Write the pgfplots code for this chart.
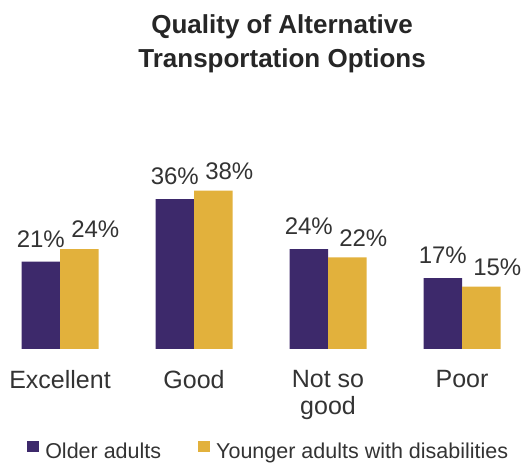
\documentclass[border=0pt]{standalone}
\usepackage{fontspec}
\setmainfont{Liberation Sans}
\usepackage{pgfplots}
\pgfplotsset{compat=1.18}
\definecolor{olderc}{HTML}{3D296B}
\definecolor{youngc}{HTML}{E2B13C}
\definecolor{txt}{HTML}{333333}
\definecolor{ttl}{HTML}{262626}
\begin{document}
\begin{tikzpicture}
\begin{axis}[
  scale only axis,
  width=523pt, height=166.6pt,
  xmin=-0.448, xmax=3.455,
  ymin=0, ymax=40,
  clip=false,
  axis line style={draw=none},
  ytick=\empty,
  xtick={0,1,2,3},
  xticklabels={Excellent,Good,{Not so\\good},Poor},
  major tick length=0pt,
  xticklabel style={anchor=north, inner sep=0pt, yshift=-21pt, align=center,
    font=\fontsize{25}{27}\selectfont, text=txt},
  /pgf/number format/assume math mode=true,
  ybar=0pt,
  bar width=38.5pt,
  nodes near coords={\pgfmathprintnumber{\pgfplotspointmeta}\%},
  every node near coord/.append style={anchor=south, inner sep=0pt,
    font=\fontsize{24}{24}\selectfont, text=txt},
  legend columns=2,
  legend style={at={(axis cs:-0.246,-22.0)}, anchor=north west, draw=none, fill=none,
    inner sep=0pt, column sep=0pt,
    nodes={inner sep=0pt, font=\fontsize{21.5}{24}\selectfont, text=txt}},
  /tikz/every odd column/.append style={column sep=6pt},
  /tikz/every even column/.append style={column sep=37pt},
  legend image code/.code={\fill[#1] (0pt,0pt) rectangle (12pt,11pt);},
]
\addplot[fill=olderc, draw=none,
  every node near coord/.append style={yshift=14pt}]
  coordinates {(0,21) (1,36) (2,24) (3,17)};
\addlegendentry{Older adults}
\addplot[fill=youngc, draw=none,
  every node near coord/.append style={xshift=16pt, yshift=11pt}]
  coordinates {(0,24) (1,38) (2,22) (3,15)};
\addlegendentry{Younger adults with disabilities}
\node[anchor=north, align=center, inner sep=0pt, text=ttl,
  font=\bfseries\fontsize{26}{34}\selectfont] at (axis cs:1.657,80.2)
  {Quality of Alternative\\Transportation Options};
\coordinate (bbtl) at (axis cs:-0.448,83.79);
\coordinate (bbbr) at (axis cs:3.455,-27.37);
\end{axis}
\path (bbtl) rectangle (bbbr);
\end{tikzpicture}
\end{document}
